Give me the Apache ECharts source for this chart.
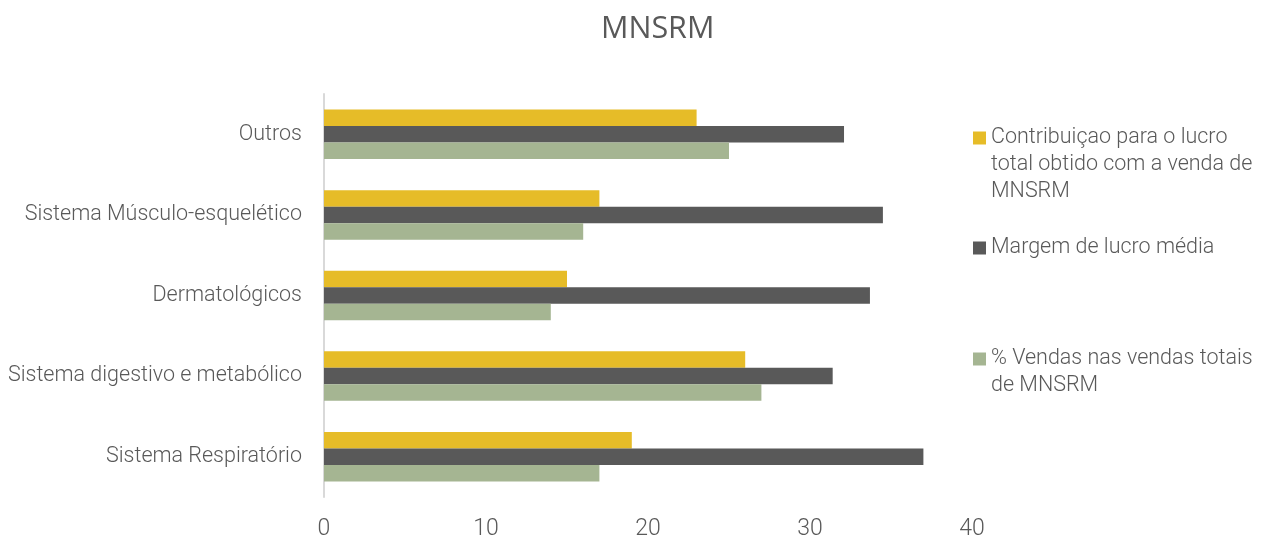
<!DOCTYPE html>
<html>
<head>
<meta charset="utf-8">
<script src="https://cdn.jsdelivr.net/npm/echarts@6/dist/echarts.min.js"></script>
<style>
  html, body { margin: 0; padding: 0; background: #ffffff; }
  #chart { width: 1266px; height: 538px; }
</style>
</head>
<body>
<div id="chart"></div>
<script>
// Categories, listed from the bottom of the axis to the top
const categories = [
  'Sistema Respiratório',
  'Sistema digestivo e metabólico',
  'Dermatológicos',
  'Sistema Músculo-esquelético',
  'Outros'
];

const seriesNames = [
  'Contribuiçao para o lucro\ntotal obtido com a venda de\nMNSRM',
  'Margem de lucro média',
  '% Vendas nas vendas totais\nde MNSRM'
];

const contribuicao = [19, 26, 15, 17, 23];
const margem = [37, 31.4, 33.7, 34.5, 32.1];
const vendas = [17, 27, 14, 16, 25];

const xTicks = { min: 0, max: 40, interval: 10 };

const colors = ['#E6BC28', '#595959', '#A5B592'];
const textColor = '#595959';
const font = 'Roboto';
const lineH = 27;

// Legend entries: the marker sits beside the first line of a wrapped name,
// so blank lines are prepended to keep that line on the marker's centre.
function legendFor(name, iconCenterY) {
  const n = name.split('\n').length;
  const blockH = (2 * n - 1) * lineH;
  return {
    orient: 'vertical',
    left: 973,
    top: iconCenterY - blockH / 2,
    padding: 0,
    icon: 'rect',
    itemWidth: 13,
    itemHeight: 13,
    itemGap: 0,
    selectedMode: false,
    data: [name],
    formatter: function (label) {
      return '\n'.repeat(label.split('\n').length - 1) + label;
    },
    textStyle: {
      color: textColor,
      fontFamily: font,
      fontWeight: 300,
      fontSize: 21.5,
      lineHeight: lineH,
      padding: [4, 0, 0, 0]
    }
  };
}

const chart = echarts.init(document.getElementById('chart'), null, { renderer: 'canvas' });

chart.setOption({
  animation: false,
  color: colors,
  title: {
    text: 'MNSRM',
    left: 601,
    top: 14,
    padding: 0,
    textStyle: {
      color: textColor,
      fontFamily: 'Open Sans',
      fontWeight: 400,
      fontSize: 30.5
    }
  },
  legend: [
    legendFor(seriesNames[0], 136),
    legendFor(seriesNames[1], 246),
    legendFor(seriesNames[2], 357)
  ],
  grid: {
    left: 324,
    right: 294,
    top: 94,
    bottom: 41,
    containLabel: false,
    outerBoundsMode: 'none'
  },
  xAxis: {
    type: 'value',
    min: xTicks.min,
    max: xTicks.max,
    interval: xTicks.interval,
    axisLine: { show: false },
    axisTick: { show: false },
    splitLine: { show: false },
    axisLabel: {
      color: textColor,
      fontFamily: font,
      fontWeight: 300,
      fontSize: 23,
      margin: 21
    }
  },
  yAxis: {
    type: 'category',
    data: categories,
    axisLine: { show: true, lineStyle: { color: '#D9D9D9', width: 2 } },
    axisTick: { show: false },
    splitLine: { show: false },
    axisLabel: {
      color: textColor,
      fontFamily: font,
      fontWeight: 300,
      fontSize: 21.5,
      margin: 22,
      padding: [6, 0, 0, 0]
    }
  },
  series: [
    { name: seriesNames[0], type: 'bar', data: contribuicao, barWidth: 16.5, barGap: '0%' },
    { name: seriesNames[1], type: 'bar', data: margem, barWidth: 16.5, barGap: '0%' },
    { name: seriesNames[2], type: 'bar', data: vendas, barWidth: 16.5, barGap: '0%' }
  ]
});
</script>
</body>
</html>
